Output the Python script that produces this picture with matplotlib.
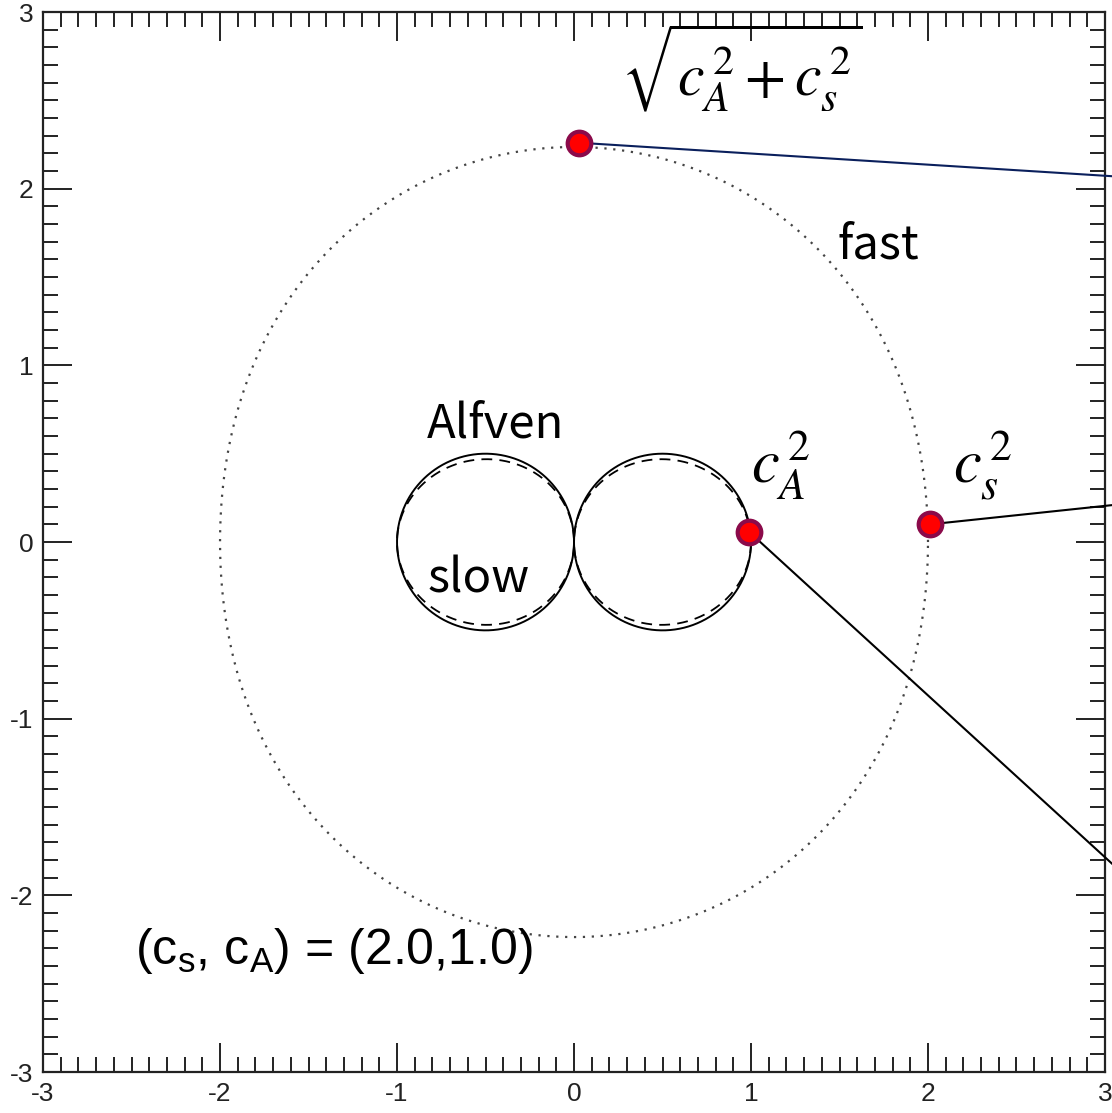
import matplotlib
matplotlib.use("Agg")
import matplotlib.pyplot as plt
import numpy as np

# wave speeds shown in the chart
cs = 2.0
cA = 1.0

# hand placed markers (x, y) and where their leader lines leave the frame
marker_x = [0.03, 0.99, 2.01]
marker_y = [2.26, 0.057, 0.10]
leader_end_x = [3.05, 3.05, 3.05]
leader_end_y = [2.07, -1.83, 0.21]
leader_colors = ["#0a1f5c", "black", "black"]

axis_ticks = [-3, -2, -1, 0, 1, 2, 3]

plt.rcParams["mathtext.fontset"] = "stix"
plt.rcParams["mathtext.rm"] = "Liberation Sans"
plt.rcParams["mathtext.sf"] = "Liberation Sans"
plt.rcParams["mathtext.it"] = "Liberation Sans:italic"
plt.rcParams["axes.unicode_minus"] = False

theta = np.linspace(0, 2 * np.pi, 721)
c2 = cs**2 + cA**2
disc = np.sqrt(c2**2 - 4 * cs**2 * cA**2 * np.cos(theta)**2)
v_fast = np.sqrt(0.5 * (c2 + disc))
v_slow = np.sqrt(np.clip(0.5 * (c2 - disc), 0, None))
v_alf = cA * np.abs(np.cos(theta))

fig = plt.figure(figsize=(11.12, 11.13), dpi=100)
ax = fig.add_axes([0.0387, 0.0368, 0.9550, 0.9524])

ax.plot(v_fast * np.cos(theta), v_fast * np.sin(theta), color="#444444",
        lw=1.6, linestyle=(0, (1, 3)))
ax.plot(v_alf * np.cos(theta), v_alf * np.sin(theta), color="black", lw=1.4)
ax.plot(v_slow * np.cos(theta), v_slow * np.sin(theta), color="black", lw=1.3,
        linestyle=(0, (6, 4)))

for mx, my, ex, ey, col in zip(marker_x, marker_y, leader_end_x, leader_end_y, leader_colors):
    ax.plot([mx, ex], [my, ey], color=col, lw=1.5, clip_on=False, zorder=3)
ax.plot(marker_x, marker_y, "o", ms=17, mfc="#ff0000", mec="#8b0a4a", mew=3,
        zorder=4, clip_on=False)

jp = ["Noto Sans CJK JP", "DejaVu Sans"]
ax.text(1.49, 1.607, "fast", fontsize=34, family=jp, va="baseline")
ax.text(-0.83, 0.589, "Alfven", fontsize=34, family=jp, va="baseline")
ax.text(-0.83, -0.283, "slow", fontsize=34, family=jp, va="baseline")
ax.text(0.265, 2.53, r"$\sqrt{c_A^{\,2}+c_s^{\,2}}$", fontsize=43, va="baseline")
ax.text(1.0, 0.334, r"$c_A^{\,2}$", fontsize=45, va="baseline")
ax.text(2.14, 0.334, r"$c_s^{\,2}$", fontsize=45, va="baseline")
ax.text(-2.48, -2.39, r"(c$_\mathrm{s}$, c$_\mathrm{A}$) = (2.0,1.0)", fontsize=36,
        family="Liberation Sans", math_fontfamily="custom", va="baseline")

ax.set_xlim(-3, 3)
ax.set_ylim(-3, 3)
ax.set_xticks(axis_ticks)
ax.set_yticks(axis_ticks)
ax.set_xticks(np.arange(-3, 3.01, 0.1), minor=True)
ax.set_yticks(np.arange(-3, 3.01, 0.1), minor=True)
ax.tick_params(which="both", direction="in", top=True, right=True, width=1.4,
               labelsize=19, pad=7, colors="#222222")
ax.tick_params(which="major", length=21)
ax.tick_params(which="minor", length=11)
for lab in ax.get_xticklabels() + ax.get_yticklabels():
    lab.set_family("Liberation Sans")
for sp in ax.spines.values():
    sp.set_linewidth(1.6)
    sp.set_color("#222222")

fig.savefig("out.png", dpi=100)
